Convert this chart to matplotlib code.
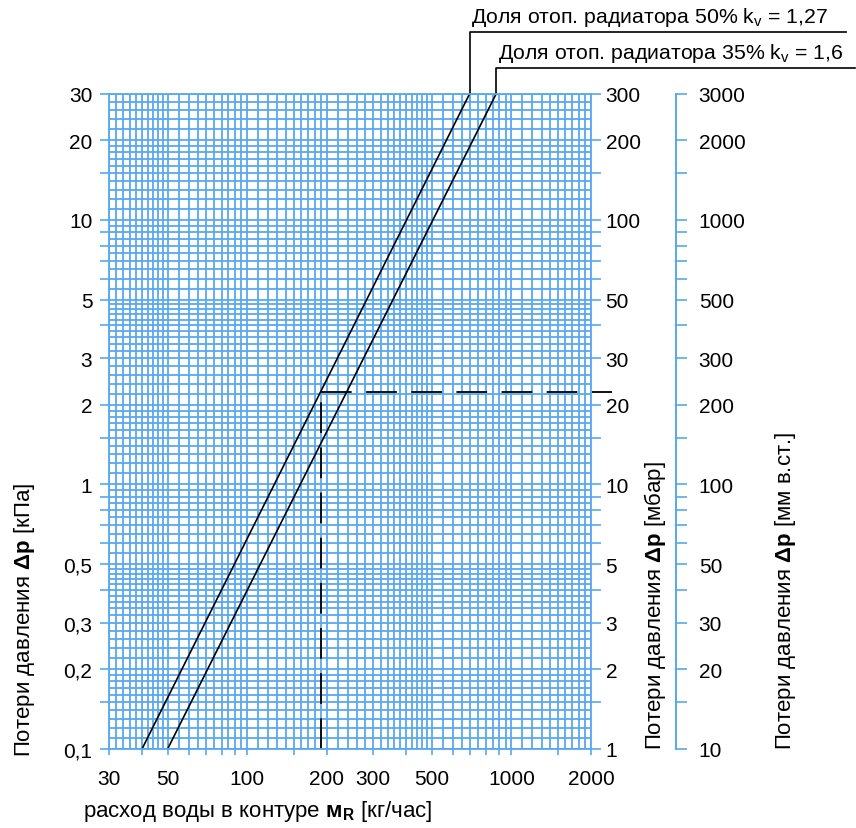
import numpy as np
import matplotlib
matplotlib.use("Agg")
import matplotlib.pyplot as plt
from matplotlib.ticker import FixedLocator, FuncFormatter, NullFormatter, NullLocator
from matplotlib.transforms import blended_transform_factory

plt.rcParams['font.family'] = ['Liberation Sans', 'DejaVu Sans']
plt.rcParams['mathtext.fontset'] = 'custom'
plt.rcParams['mathtext.rm'] = 'Liberation Sans'
plt.rcParams['mathtext.bf'] = 'Liberation Sans:bold'
plt.rcParams['mathtext.it'] = 'Liberation Sans:italic'

BLUE = '#58a8ee'

# расход воды (кг/час) и потери давления (кПа) на концах прямых
flow_50 = [40, 695]
dp_50 = [0.1, 30]
flow_35 = [50, 876]
dp_35 = [0.1, 30]

# пример отсчёта по диаграмме
example_flow = 190
example_dp = 2.24
dash_end_flow = 2400

x_labels = [30, 50, 100, 200, 300, 500, 1000, 2000]
kpa_labels = [0.1, 0.2, 0.3, 0.5, 1, 2, 3, 5, 10, 20, 30]
mbar_labels = [1, 2, 3, 5, 10, 20, 30, 50, 100, 200, 300]
mm_labels = [10, 20, 30, 50, 100, 200, 300, 500, 1000, 2000, 3000]

label_50 = 'Доля отоп. радиатора 50% k$_\\mathrm{v}$ = 1,27'
label_35 = 'Доля отоп. радиатора 35% k$_\\mathrm{v}$ = 1,6'

TICK_FS = 15
LABEL_FS = 16
NOTE_FS = 15.3


def log_grid(lo, hi):
    vals = []
    for d in 10.0 ** np.arange(-2, 5):
        for a, b, s in [(1, 2, 0.1), (2, 5, 0.2), (5, 10, 0.5)]:
            vals += list(np.arange(a, b - 1e-9, s) * d)
    vals = np.array(vals)
    return vals[(vals >= lo * 0.999) & (vals <= hi * 1.001)]


def log_ticks(lo, hi):
    vals = np.array([m * d for d in 10.0 ** np.arange(-2, 5)
                     for m in [1, 1.5, 2, 3, 4, 5, 6, 7, 8, 9]])
    return vals[(vals >= lo * 0.999) & (vals <= hi * 1.001)]


def formatter(labels):
    def f(v, pos):
        for l in labels:
            if abs(v / l - 1) < 1e-6:
                return ('%g' % l).replace('.', ',')
        return ''
    return FuncFormatter(f)


fig = plt.figure(figsize=(8.56, 8.29), dpi=100)
ax = fig.add_axes([0.1273, 0.0953, 0.5631, 0.7905])
ax.set_xscale('log')
ax.set_yscale('log')
ax.set_xlim(30, 2000)
ax.set_ylim(0.1, 30)

ax.xaxis.set_major_locator(FixedLocator(log_ticks(30, 2000)))
ax.xaxis.set_major_formatter(formatter(x_labels))
ax.xaxis.set_minor_locator(FixedLocator(log_grid(30, 2000)))
ax.xaxis.set_minor_formatter(NullFormatter())
ax.yaxis.set_major_locator(FixedLocator(log_ticks(0.1, 30)))
ax.yaxis.set_major_formatter(formatter(kpa_labels))
ax.yaxis.set_minor_locator(FixedLocator(log_grid(0.1, 30)))
ax.yaxis.set_minor_formatter(NullFormatter())

ax.tick_params(which='minor', length=0)
ax.tick_params(axis='x', which='major', length=4.5, width=1.2, color=BLUE,
               pad=10, labelsize=TICK_FS)
ax.tick_params(axis='y', which='major', length=6.5, width=1.2, color=BLUE,
               pad=5.5, labelsize=TICK_FS)
ax.grid(True, which='both', color=BLUE, lw=1.3)
ax.set_axisbelow(True)
for s in ax.spines.values():
    s.set_color(BLUE)
    s.set_linewidth(1.3)

# шкала мбар
ax2 = ax.twinx()
ax2.set_yscale('log')
ax2.set_ylim(1, 300)
ax2.yaxis.set_major_locator(FixedLocator(log_ticks(1, 300)))
ax2.yaxis.set_major_formatter(formatter(mbar_labels))
ax2.yaxis.set_minor_locator(NullLocator())
ax2.tick_params(axis='y', length=7, width=1.2, color=BLUE, pad=3.5,
                labelsize=TICK_FS)
for s in ax2.spines.values():
    s.set_visible(False)

# шкала мм в.ст.
ax3 = ax.twinx()
ax3.set_yscale('log')
ax3.set_ylim(10, 3000)
ax3.spines['right'].set_position(('axes', 1.176))
ax3.yaxis.set_major_locator(FixedLocator(log_ticks(10, 3000)))
ax3.yaxis.set_major_formatter(formatter(mm_labels))
ax3.yaxis.set_minor_locator(NullLocator())
ax3.tick_params(axis='y', length=8, width=1.2, color=BLUE, pad=8.5,
                labelsize=TICK_FS)
for name, s in ax3.spines.items():
    s.set_visible(name == 'right')
ax3.spines['right'].set_color(BLUE)
ax3.spines['right'].set_linewidth(1.4)

# характеристики
ax.plot(flow_50, dp_50, color='black', lw=1.2)
ax.plot(flow_35, dp_35, color='black', lw=1.2)

# пример
ax.plot([example_flow, example_flow], [0.1, example_dp], color='black',
        lw=1.3, dashes=(17, 8))
ax.plot([example_flow, dash_end_flow], [example_dp, example_dp], color='black',
        lw=1.3, dashes=(17, 8), clip_on=False)

# выноски
blend = blended_transform_factory(ax.transData, ax.transAxes)
for fl, y_top, x_end, txt in [(flow_50[1], 1.094, 18500, label_50),
                              (flow_35[1], 1.039, 20000, label_35)]:
    ax.plot([fl, fl, x_end], [1.0, y_top, y_top], color='black', lw=1.2,
            transform=blend, clip_on=False)
    ax.annotate(txt, xy=(fl, y_top), xycoords=blend, xytext=(1, 3),
                textcoords='offset points', ha='left', va='bottom',
                fontsize=NOTE_FS)

fig.text(25 / 856, 0.0869, 'Потери давления $\\mathbf{Δp}$ [кПа]',
         rotation=90, ha='center', va='bottom', fontsize=LABEL_FS)
fig.text(655 / 856, 0.0953, 'Потери давления $\\mathbf{Δp}$ [мбар]',
         rotation=90, ha='center', va='bottom', fontsize=LABEL_FS)
fig.text(785 / 856, 0.0953, 'Потери давления $\\mathbf{Δp}$ [мм в.ст.]',
         rotation=90, ha='center', va='bottom', fontsize=LABEL_FS)
fig.text(83 / 856, 12 / 829,
         'расход воды в контуре $\\mathbf{м}_\\mathbf{R}$ [кг/час]',
         ha='left', va='baseline', fontsize=LABEL_FS)

fig.savefig('out.png', dpi=100)
